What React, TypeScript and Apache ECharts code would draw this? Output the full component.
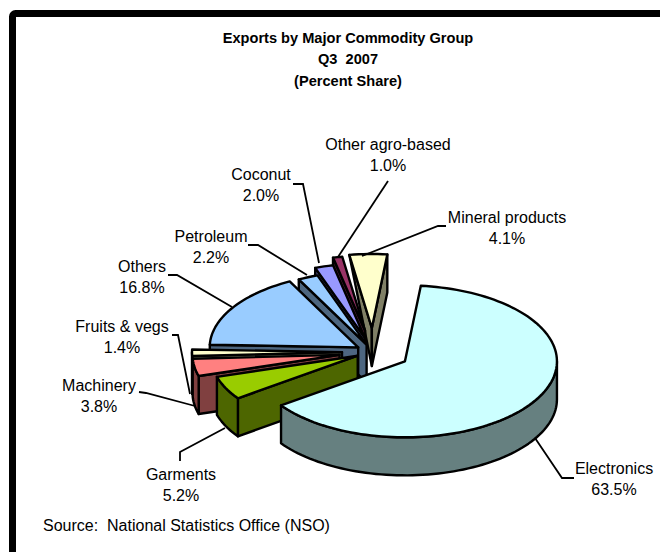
import React, { useEffect, useRef } from "react";
import * as echarts from "echarts";

// Export shares by commodity group, clockwise from the first slice.
const categories = [
  "Electronics",
  "Garments",
  "Machinery",
  "Fruits & vegs",
  "Others",
  "Petroleum",
  "Coconut",
  "Other agro-based",
  "Mineral products",
];
const shares = [63.5, 5.2, 3.8, 1.4, 16.8, 2.2, 2.0, 1.0, 4.1];

// Slice appearance, same order as categories.
const topColors = ["#CCFFFF", "#99CC00", "#FF8080", "#FFFFCC", "#99CCFF", "#99CCFF", "#9999FF", "#993366", "#FFFFCC"];
const wallColors = ["#668080", "#4D6600", "#804040", "#808066", "#4D6680", "#4D6680", "#4D4D80", "#4D1A33", "#808066"];
const explosions = [37, 17, 34, 31, 17.5, 16, 30, 43, 48];
const radii = [152, 147, 147, 150, 148.5, 147, 148, 150, 148];

// Back-to-front drawing sequence of the slices.
const paintOrder = [8, 7, 6, 5, 4, 3, 2, 1, 0];

// Pie projection.
const CENTER = [373, 352];
const SQUASH = 0.5;
const DEPTH = 38;
const START_ANGLE = 6;
const OUTLINE = 2.4;

// Label anchors and leader lines, same order as categories.
const labelAnchors = [
  [614, 479],
  [181, 485],
  [99, 396],
  [122, 337],
  [142, 277],
  [211, 247],
  [261, 185],
  [388, 155],
  [507, 228],
];
const leaders = [
  [[535, 438], [562, 478], [574, 478]],
  [[180, 461], [180, 452], [225, 428]],
  [[139, 392], [146, 393], [195, 406]],
  [[172, 335], [178, 335], [190, 394]],
  [[168, 275], [177, 275], [232, 307]],
  [[248, 245], [258, 245], [307, 275]],
  [[293, 184], [303, 184], [319, 263]],
  [[388, 181], [338, 257]],
  [[446, 226], [438, 226], [362, 256]],
];

const total = shares.reduce((a, b) => a + b, 0);
const FONT = "Liberation Sans, Arial, sans-serif";

const toRad = (d: number) => (d * Math.PI) / 180;

function project(origin: number[], radius: number, deg: number): number[] {
  return [
    origin[0] + radius * Math.sin(toRad(deg)),
    origin[1] - radius * SQUASH * Math.cos(toRad(deg)),
  ];
}

function arcPoints(origin: number[], radius: number, from: number, to: number): number[][] {
  const steps = Math.max(2, Math.ceil((to - from) / 2));
  const pts: number[][] = [];
  for (let i = 0; i <= steps; i++) {
    pts.push(project(origin, radius, from + ((to - from) * i) / steps));
  }
  return pts;
}

const drop = (p: number[]) => [p[0], p[1] + DEPTH];

// A radial wall is seen when its outward normal, at the given bearing, points at the viewer.
const facesViewer = (bearing: number) => Math.cos(toRad(bearing)) < 0;

function renderSlice(params: any, api: any) {
  const index = api.value(0);
  const startDeg = api.value(1);
  const endDeg = api.value(2);
  const radius = radii[index];
  const apex = project(CENTER, explosions[index], (startDeg + endDeg) / 2);
  const wallStyle = { fill: wallColors[index], stroke: "#000", lineWidth: OUTLINE, lineJoin: "round" };

  const startOuter = project(apex, radius, startDeg);
  const endOuter = project(apex, radius, endDeg);
  const children: any[] = [];

  if (facesViewer(startDeg - 90)) {
    // The slice pointing straight back narrows to its inner corner on the near-left side.
    const startWall =
      index === categories.length - 1
        ? [startOuter, apex, drop(apex)]
        : [startOuter, apex, drop(apex), drop(startOuter)];
    children.push({ type: "polygon", shape: { points: startWall }, style: wallStyle });
  }
  if (facesViewer(endDeg + 90)) {
    children.push({
      type: "polygon",
      shape: { points: [endOuter, apex, drop(apex), drop(endOuter)] },
      style: wallStyle,
    });
  }

  // Rim is only seen where the edge faces the viewer.
  const rimFrom = Math.max(startDeg, 90);
  const rimTo = Math.min(endDeg, 270);
  if (rimTo > rimFrom) {
    const rim = arcPoints(apex, radius, rimFrom, rimTo);
    children.push({
      type: "polygon",
      shape: { points: [...rim, ...rim.map(drop).reverse()] },
      style: wallStyle,
    });
  }

  children.push({
    type: "polygon",
    shape: { points: [apex, ...arcPoints(apex, radius, startDeg, endDeg)] },
    style: { fill: topColors[index], stroke: "#000", lineWidth: OUTLINE, lineJoin: "round" },
  });
  return { type: "group", children };
}

function sliceRows(): number[][] {
  let angle = START_ANGLE;
  const spans = shares.map((v) => {
    const from = angle;
    angle += (v / total) * 360;
    return [from, angle];
  });
  return paintOrder.map((i) => [i, spans[i][0], spans[i][1], shares[i]]);
}

export default function App() {
  const ref = useRef<HTMLDivElement>(null);

  useEffect(() => {
    const chart = echarts.init(ref.current!, null, { renderer: "svg" });
    const labelFont = { fontFamily: FONT, fontSize: 16, fill: "#000" };
    chart.setOption({
      animation: false,
      backgroundColor: "#fff",
      title: {
        text: "Exports by Major Commodity Group\nQ3  2007\n(Percent Share)",
        left: 343,
        top: 22,
        textAlign: "center",
        textStyle: {
          fontFamily: FONT,
          fontSize: 14.6,
          fontWeight: "bold",
          color: "#000",
          lineHeight: 21.5,
        },
      },
      series: [
        {
          type: "custom",
          coordinateSystem: "none",
          renderItem: renderSlice,
          data: sliceRows(),
          silent: true,
        },
      ],
      graphic: [
        {
          type: "rect",
          shape: { x: 12.5, y: 13.5, width: 720, height: 620, r: 3 },
          style: { fill: "none", stroke: "#000", lineWidth: 7 },
        },
        ...leaders.map((points) => ({
          type: "polyline",
          shape: { points },
          style: { fill: "none", stroke: "#000", lineWidth: 1.8 },
          z: 10,
        })),
        ...categories.map((name, i) => ({
          type: "text",
          x: labelAnchors[i][0],
          y: labelAnchors[i][1],
          style: {
            ...labelFont,
            text: `${name}\n${shares[i].toFixed(1)}%`,
            align: "center",
            verticalAlign: "middle",
            lineHeight: 21,
          },
          z: 10,
        })),
        {
          type: "text",
          x: 43,
          y: 525,
          style: {
            ...labelFont,
            text: "Source:  National Statistics Office (NSO)",
            align: "left",
            verticalAlign: "middle",
          },
          z: 10,
        },
      ],
    });
    return () => chart.dispose();
  }, []);

  return <div ref={ref} style={{ position: "fixed", left: 0, top: 0, width: 660, height: 552 }} />;
}
